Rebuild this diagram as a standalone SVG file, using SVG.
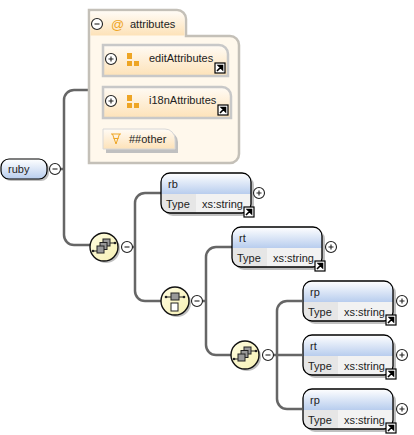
<svg xmlns="http://www.w3.org/2000/svg" width="414" height="435" viewBox="0 0 414 435">
<style>
text{font-family:"Liberation Sans",Arial,sans-serif;font-size:11px;fill:#222}
.c{fill:none;stroke:#666;stroke-width:2.5}
.s{fill:#c0c0c0}
.el{stroke:#000;stroke-width:1.2;fill:url(#blue)}
.hd{fill:url(#blue)}
.ty{fill:#e6e6e6}
.tv{fill:#f2f2f2}
.o{fill:none;stroke:#000;stroke-width:1.3}
.btn{fill:#fff;stroke:#222;stroke-width:1.1}
.sym{stroke:#222;stroke-width:1.1;fill:none}
.grp{fill:#fff8ec;stroke:#c4c0b8;stroke-width:2.5}
.attr{fill:url(#org);stroke:#c8c8c8;stroke-width:2.5}
.circ{fill:url(#yel);stroke:#111;stroke-width:1.4}
.sq{fill:#999;stroke:#222;stroke-width:1}
.dash{fill:#eea524}
</style>
<defs>
<linearGradient id="blue" x1="0" y1="0" x2="0" y2="1"><stop offset="0" stop-color="#fff"/><stop offset="1" stop-color="#b8cdee"/></linearGradient>
<linearGradient id="org" x1="0" y1="0" x2="0" y2="1"><stop offset="0" stop-color="#fffbf5"/><stop offset="1" stop-color="#fde2b8"/></linearGradient>
<linearGradient id="yel" x1="0" y1="0" x2="1" y2="1"><stop offset="0" stop-color="#fffde0"/><stop offset="1" stop-color="#f6f0b4"/></linearGradient>
<g id="plus"><circle r="5.500" class="btn"/><path d="M-2.500 0H2.500M0-2.500V2.500" class="sym"/></g>
<g id="minus"><circle r="5.500" class="btn"/><path d="M-2.500 0H2.500" class="sym"/></g>
<g id="link"><rect width="10" height="10" fill="#fff" stroke="#000" stroke-width="1.2"/><path d="M2 8L7 3M3.500 2.500H7.500V6.500Z" stroke="#000" stroke-width="1.600" fill="#000"/></g>
<g id="bars"><rect x="0" y="0" width="5" height="6" class="dash"/><rect x="0" y="8" width="5" height="5" class="dash"/><rect x="7" y="8" width="5" height="5" class="dash"/></g>
<g id="seq"><circle cx="2" cy="2" r="14" class="s"/><circle r="14" class="circ"/><path d="M-11 4H-5M5-4H11" stroke="#222" stroke-width="1"/><circle cx="-11" cy="4" r="1.300" fill="#222"/><circle cx="11" cy="-4" r="1.300" fill="#222"/><rect x="-1" y="-8" width="7" height="7" class="sq"/><rect x="-4" y="-4.500" width="7" height="7" class="sq"/><rect x="-7" y="-1" width="7" height="7" class="sq"/></g>
<g id="typed">
<rect x="3" y="3" width="90" height="40" rx="9" class="s"/>
<path d="M0 21V9a9 9 0 0 1 9-9H81a9 9 0 0 1 9 9V21Z" class="hd"/>
<path d="M0 21H35V40H9a9 9 0 0 1-9-9Z" class="ty"/>
<path d="M35 21H90V31a9 9 0 0 1-9 9H35Z" class="tv"/>
<rect x="0" y="0" width="90" height="40" rx="9" class="o"/>
<text x="5" y="35">Type</text>
<text x="41" y="35">xs:string</text>
<use href="#link" x="83" y="34"/>
</g>
</defs>
<g id="connectors">
<path class="c" d="M60 169H64M89 90H74a10 10 0 0 0-10 10V235a10 10 0 0 0 10 10H90"/>
<path class="c" d="M131 247H135M161 193H145a10 10 0 0 0-10 10V291a10 10 0 0 0 10 10H161"/>
<path class="c" d="M202 301H206M232 247H216a10 10 0 0 0-10 10V345a10 10 0 0 0 10 10H231"/>
<path class="c" d="M273 355H302M302 301H287a10 10 0 0 0-10 10V399a10 10 0 0 0 10 10H302"/>
</g>
<g id="attributes">
<path class="grp" d="M89 163V10H177a9 9 0 0 1 9 9V36H230a9 9 0 0 1 9 9V154a9 9 0 0 1-9 9Z"/>
<path d="M90.500 11.500H177a8 8 0 0 1 7.500 8V35.500H90.500Z" fill="url(#org)"/>
<use href="#minus" x="97" y="24"/>
<text x="111" y="29" style="fill:#eea524;font-size:13px">@</text>
<text x="130" y="28">attributes</text>
</g>
<g id="editAttributes">
<path class="attr" d="M103 76V45H219a9 9 0 0 1 9 9V76Z"/>
<use href="#plus" x="111" y="59"/>
<use href="#bars" x="127" y="53"/>
<text x="149" y="62">editAttributes</text>
<use href="#link" x="215" y="63"/>
</g>
<g id="i18nAttributes">
<path class="attr" d="M103 118V87H222a9 9 0 0 1 9 9V118Z"/>
<use href="#plus" x="111" y="101"/>
<use href="#bars" x="127" y="95"/>
<text x="149" y="104">i18nAttributes</text>
<use href="#link" x="218" y="105"/>
</g>
<g id="other">
<path class="s" d="M106 132H168a10 10 0 0 1 10 10V153H106Z"/>
<path d="M103 149V129H165a10 10 0 0 1 10 10V149Z" fill="url(#org)" stroke="#d8d8d8" stroke-width="1"/>
<path d="M111 134H121M112.500 134L116 144L119.500 134M113.500 138.500H118.500" fill="none" stroke="#eea524" stroke-width="1"/>
<text x="129" y="143">##other</text>
</g>
<g id="ruby">
<rect x="3" y="161" width="46" height="20" rx="8" class="s"/>
<rect x="1" y="159" width="46" height="20" rx="8" class="el"/>
<text x="8" y="173">ruby</text>
<use href="#minus" x="55" y="169"/>
</g>
<g id="seq1"><use href="#seq" x="104" y="247"/><use href="#minus" x="127" y="247"/></g>
<g id="choice">
<circle cx="177" cy="303" r="14" class="s"/><circle cx="175" cy="301" r="14" class="circ"/>
<path d="M166 297H171M179 297H184" stroke="#222" stroke-width="1"/><circle cx="166" cy="297" r="1.300" fill="#222"/><circle cx="184" cy="297" r="1.300" fill="#222"/>
<rect x="171" y="293" width="8" height="7" class="sq"/>
<rect x="171" y="303" width="7" height="8" fill="#fff" stroke="#222"/>
<use href="#minus" x="197" y="301"/>
</g>
<g id="seq2"><use href="#seq" x="245" y="355"/><use href="#minus" x="268" y="355"/></g>
<g id="rb"><use href="#typed" x="161" y="173"/><text x="168" y="188">rb</text><use href="#plus" x="259" y="193"/></g>
<g id="rt1"><use href="#typed" x="232" y="227"/><text x="239" y="242">rt</text><use href="#plus" x="331" y="247"/></g>
<g id="rp1"><use href="#typed" x="303" y="281"/><text x="310" y="296">rp</text><use href="#plus" x="402" y="301"/></g>
<g id="rt2"><use href="#typed" x="303" y="335"/><text x="310" y="350">rt</text><use href="#plus" x="402" y="355"/></g>
<g id="rp2"><use href="#typed" x="303" y="389"/><text x="310" y="404">rp</text><use href="#plus" x="402" y="409"/></g>
</svg>
